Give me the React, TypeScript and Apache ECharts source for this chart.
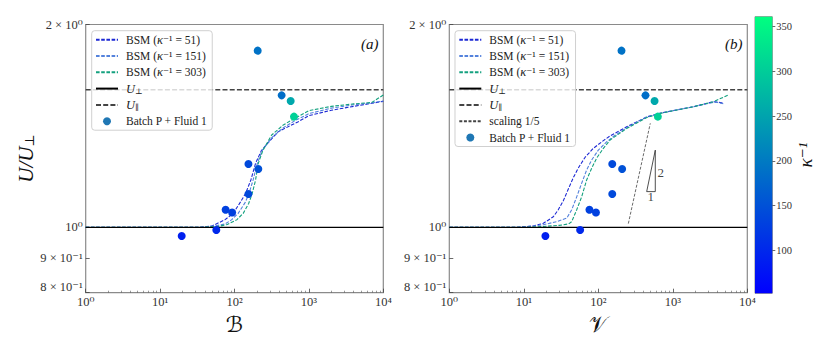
import React, { useEffect, useRef } from "react";
import * as echarts from "echarts";

// ---------- axes / ticks ----------
const X_MIN = 1;
const X_MAX = 10000;
const Y_MIN = 0.8;
const Y_MAX = 2;
const xTickLabels = ["10⁰", "10¹", "10²", "10³", "10⁴"];
const yTickValues = [0.8, 0.9, 1, 2];
const yTickLabels = ["8 × 10⁻¹", "9 × 10⁻¹", "10⁰", "2 × 10⁰"];
const cbarTicks = [100, 150, 200, 250, 300, 350];
const KAPPA_MIN = 52;
const KAPPA_MAX = 361;

// ---------- reference levels ----------
const U_PERP = 1.0;
const U_PAR = 1.6;

// ---------- experimental points (same in both panels) ----------
const batchX = [19.5, 57, 76, 93, 154, 154, 209, 205, 430, 569, 630];
const batchY = [0.971, 0.991, 1.062, 1.052, 1.121, 1.242, 1.221, 1.829, 1.57, 1.54, 1.46];
const batchKappa = [90, 100, 130, 130, 140, 140, 150, 190, 185, 255, 305];

// ---------- BSM vs B (panel a) ----------
const bsmB51X = [1, 10, 34, 50, 74, 96, 120, 141, 166, 192, 230, 300, 388, 721, 1000, 2000, 4000, 7000, 10000];
const bsmB51Y = [1, 1, 1, 1.005, 1.026, 1.049, 1.09, 1.123, 1.176, 1.245, 1.3, 1.345, 1.387, 1.435, 1.465, 1.492, 1.512, 1.528, 1.538];
const bsmB151X = [1, 10, 34, 55, 75, 91, 112, 140, 157, 178, 203, 235, 320, 450, 650, 1000, 2000, 4000, 7000, 10000];
const bsmB151Y = [1, 1, 1, 1.005, 1.012, 1.026, 1.049, 1.09, 1.123, 1.176, 1.245, 1.3, 1.36, 1.405, 1.44, 1.475, 1.503, 1.52, 1.531, 1.54];
const bsmB303X = [1, 10, 34, 60, 80, 107, 131, 155, 173, 192, 209, 240, 316, 453, 650, 1000, 2000, 4000, 7000, 10000];
const bsmB303Y = [1, 1, 1, 1.003, 1.01, 1.026, 1.049, 1.085, 1.123, 1.176, 1.245, 1.3, 1.371, 1.419, 1.452, 1.49, 1.512, 1.525, 1.532, 1.572];

// ---------- BSM vs V (panel b) ----------
const bsmV51X = [1, 8, 13.4, 18.3, 24.9, 29, 33.9, 39.6, 46.2, 53.9, 66.3, 85.7, 117, 144, 240, 446, 673, 1884, 3500, 4000, 4760];
const bsmV51Y = [1, 1, 1.005, 1.014, 1.037, 1.062, 1.095, 1.14, 1.185, 1.225, 1.27, 1.31, 1.345, 1.367, 1.41, 1.458, 1.477, 1.51, 1.536, 1.535, 1.528];
const bsmV151X = [1, 8, 13, 18.3, 27.7, 37.7, 44, 51.3, 59.8, 69.8, 81.5, 100, 130, 159, 240, 446, 673, 1884, 3500, 4000, 4760];
const bsmV151Y = [1, 1, 1.004, 1.009, 1.02, 1.032, 1.062, 1.11, 1.163, 1.217, 1.259, 1.302, 1.34, 1.364, 1.405, 1.458, 1.477, 1.51, 1.533, 1.532, 1.526];
const bsmV303X = [1, 10, 18, 30, 40, 44, 51.3, 59.8, 69.8, 81.5, 95, 117, 144, 240, 446, 673, 1884, 3500, 5555];
const bsmV303Y = [1, 1, 1.003, 1.007, 1.012, 1.02, 1.062, 1.11, 1.176, 1.224, 1.267, 1.31, 1.348, 1.402, 1.455, 1.476, 1.51, 1.536, 1.572];

// ---------- scaling guide (panel b) ----------
const scalingX = [253, 499];
const scalingY = [1.013, 1.427];
const triX = [446, 582, 582, 446];
const triY = [1.13, 1.13, 1.302, 1.13];
const triLabelX = [688, 505];
const triLabelY = [1.205, 1.11];
const triLabelText = ["2", "1"];

// ---------- names ----------
const N51 = "BSM (κ⁻¹ = 51)";
const N151 = "BSM (κ⁻¹ = 151)";
const N303 = "BSM (κ⁻¹ = 303)";
const NPERP = "U⊥";
const NPAR = "U∥";
const NSCALE = "scaling 1/5";
const NBATCH = "Batch P + Fluid 1";

const C51 = "#1c28d4";
const C151 = "#5482dc";
const C303 = "#14a17f";

const serif = "'Liberation Serif', 'DejaVu Serif', serif";
const pts = (xs: number[], ys: number[]) => xs.map((x, i) => [x, ys[i]]);

function xAxisFor(gi: number, name: string) {
  return {
    type: "log",
    logBase: 10,
    gridIndex: gi,
    min: X_MIN,
    max: X_MAX,
    axisLine: { show: false },
    axisTick: { show: true, inside: true, length: 4, lineStyle: { color: "#444", width: 0.8 } },
    minorTick: { show: true, splitNumber: 9, length: 2, lineStyle: { color: "#555", width: 0.6 } },
    splitLine: { show: false },
    minorSplitLine: { show: false },
    axisLabel: {
      fontFamily: serif,
      fontSize: 12.5,
      lineHeight: 12,
      color: "#333",
      margin: 3,
      formatter: (v: number) => xTickLabels[Math.round(Math.log10(v))] ?? "",
    },
    name,
    nameLocation: "middle",
    nameGap: 9,
    nameTextStyle: { fontFamily: "'DejaVu Serif', 'DejaVu Sans', serif", fontSize: 22, color: "#111" },
  };
}

function yAxisFor(gi: number, withName: boolean) {
  return {
    type: "log",
    logBase: 10,
    gridIndex: gi,
    min: Y_MIN,
    max: Y_MAX,
    axisLine: { show: false },
    axisTick: { show: true, inside: true, length: 4, customValues: yTickValues, lineStyle: { color: "#444", width: 0.8 } },
    splitLine: { show: false },
    axisLabel: {
      fontFamily: serif,
      fontSize: 12.5,
      lineHeight: 11,
      color: "#333",
      margin: 3,
      verticalAlignMinLabel: "bottom",
      customValues: yTickValues,
      formatter: (v: number) => {
        const i = yTickValues.findIndex((t) => Math.abs(t - v) < 1e-6);
        return i >= 0 ? yTickLabels[i] : "";
      },
    },
    name: withName ? "{i|U/U}{s|⊥}" : "",
    nameLocation: "middle",
    nameGap: 48,
    nameRotate: 90,
    nameTextStyle: {
      rich: {
        i: { fontFamily: serif, fontStyle: "italic", fontSize: 21, color: "#111" },
        s: { fontFamily: serif, fontSize: 13, color: "#111", verticalAlign: "bottom" },
      },
    },
  };
}

function panelSeries(gi: number, v: boolean) {
  const base = { xAxisIndex: gi, yAxisIndex: gi, symbol: "none", showSymbol: false, silent: true, z: 2 };
  const list: any[] = [
    { ...base, type: "line", name: N51, data: v ? pts(bsmV51X, bsmV51Y) : pts(bsmB51X, bsmB51Y), lineStyle: { color: C51, width: 1.1, type: [3.6, 1.6] }, itemStyle: { color: C51 } },
    { ...base, type: "line", name: N151, data: v ? pts(bsmV151X, bsmV151Y) : pts(bsmB151X, bsmB151Y), lineStyle: { color: C151, width: 1.1, type: [3.6, 1.6] }, itemStyle: { color: C151 } },
    { ...base, type: "line", name: N303, data: v ? pts(bsmV303X, bsmV303Y) : pts(bsmB303X, bsmB303Y), lineStyle: { color: C303, width: 1.1, type: [3.6, 1.6] }, itemStyle: { color: C303 } },
    { ...base, type: "line", name: NPERP, data: [[X_MIN, U_PERP], [X_MAX, U_PERP]], lineStyle: { color: "#000", width: 1.4 }, itemStyle: { color: "#000" } },
    { ...base, type: "line", name: NPAR, data: [[X_MIN, U_PAR], [X_MAX, U_PAR]], lineStyle: { color: "#444", width: 1.4, type: [5, 2.2] }, itemStyle: { color: "#444" } },
  ];
  if (v) {
    list.push({ ...base, type: "line", name: NSCALE, data: pts(scalingX, scalingY), lineStyle: { color: "#444", width: 0.8, type: [3, 1.6] }, itemStyle: { color: "#444" } });
    list.push({ ...base, type: "line", name: "triangle", data: pts(triX, triY), lineStyle: { color: "#222", width: 0.8 }, itemStyle: { color: "#222" } });
    list.push({
      ...base,
      type: "scatter",
      name: "triangle labels",
      symbol: "circle",
      symbolSize: 0.1,
      itemStyle: { color: "rgba(0,0,0,0)" },
      data: triLabelX.map((x, i) => ({ value: [x, triLabelY[i]], name: triLabelText[i] })),
      label: { show: true, position: "inside", formatter: "{b}", fontFamily: serif, fontSize: 13, color: "#111" },
    });
  }
  list.push({
    type: "scatter",
    name: NBATCH,
    xAxisIndex: gi,
    yAxisIndex: gi,
    symbolSize: 8,
    z: 5,
    silent: true,
    itemStyle: { color: "#1f77b4", opacity: 1 },
    data: batchX.map((x, i) => [x, batchY[i], batchKappa[i]]),
  });
  return list;
}

function legendFor(left: number, names: string[]) {
  return {
    orient: "vertical",
    left,
    top: 30.7,
    padding: [2.5, 5, 2.5, 3.3],
    itemGap: 3.3,
    itemWidth: 22,
    itemHeight: 8,
    selectedMode: false,
    backgroundColor: "rgba(255,255,255,0.8)",
    borderColor: "#d0d0d0",
    borderWidth: 1,
    borderRadius: 3,
    data: names.map((n) =>
      n === NBATCH
        ? { name: n, icon: "circle", itemStyle: { color: "#1f77b4", opacity: 1 } }
        : { name: n, itemStyle: { opacity: 0 } }
    ),
    formatter: (name: string) => {
      if (name === NPERP) return "{i|U}{s|⊥}";
      if (name === NPAR) return "{i|U}{s|∥}";
      const m = name.match(/^BSM \(κ⁻¹ = (\d+)\)$/);
      if (m) return `{n|BSM (}{i|κ}{n|⁻¹ = ${m[1]})}`;
      return `{n|${name}}`;
    },
    textStyle: {
      fontFamily: serif,
      fontSize: 11.5,
      color: "#222",
      lineHeight: 13,
      padding: [0, 0, 0, 3],
      rich: {
        n: { fontFamily: serif, fontSize: 11.5, color: "#222", lineHeight: 13 },
        i: { fontFamily: serif, fontStyle: "italic", fontSize: 12.5, color: "#222", lineHeight: 13 },
        s: { fontFamily: serif, fontSize: 8, color: "#222", lineHeight: 13, verticalAlign: "bottom" },
      },
    },
  };
}

export default function App() {
  const ref = useRef<HTMLDivElement>(null);
  useEffect(() => {
    if (!ref.current) return;
    const chart = echarts.init(ref.current, undefined, { renderer: "svg" });
    const sA = panelSeries(0, false);
    const sB = panelSeries(1, true);
    const series: any[] = [...sA, ...sB];
    const scatterIdx = series.map((s, i) => (s.name === NBATCH ? i : -1)).filter((i) => i >= 0);
    series.push({
      type: "bar",
      name: "colorbar",
      xAxisIndex: 2,
      yAxisIndex: 2,
      data: [KAPPA_MAX],
      barWidth: "100%",
      silent: true,
      itemStyle: {
        color: new echarts.graphic.LinearGradient(0, 0, 0, 1, [
          { offset: 0, color: "#00ff80" },
          { offset: 1, color: "#0000ff" },
        ]),
      },
    });

    chart.setOption({
      animation: false,
      backgroundColor: "#fff",
      grid: [
        { left: 85.7, top: 24.5, width: 297.6, height: 268.2, show: true, borderColor: "#8a8a8a", borderWidth: 1.2, backgroundColor: "transparent" },
        { left: 449.3, top: 24.5, width: 298, height: 268.2, show: true, borderColor: "#8a8a8a", borderWidth: 1.2, backgroundColor: "transparent" },
        { left: 755, top: 16.7, width: 17.3, height: 276.6, show: true, borderColor: "#8a8a8a", borderWidth: 1, backgroundColor: "transparent" },
      ],
      xAxis: [
        xAxisFor(0, "ℬ"),
        xAxisFor(1, "𝒱"),
        { type: "category", gridIndex: 2, data: [""], show: false },
      ],
      yAxis: [
        yAxisFor(0, true),
        yAxisFor(1, false),
        {
          type: "value",
          gridIndex: 2,
          position: "right",
          min: KAPPA_MIN,
          max: KAPPA_MAX,
          axisLine: { show: false },
          splitLine: { show: false },
          axisTick: { show: true, length: 3, customValues: cbarTicks, lineStyle: { color: "#444", width: 0.8 } },
          axisLabel: { customValues: cbarTicks, fontFamily: serif, fontSize: 10.5, color: "#333", margin: 4 },
          name: "κ⁻¹",
          nameLocation: "middle",
          nameRotate: 90,
          nameGap: 20,
          nameTextStyle: { fontFamily: serif, fontStyle: "italic", fontSize: 19, color: "#111" },
        },
      ],
      visualMap: {
        type: "continuous",
        show: false,
        min: KAPPA_MIN,
        max: KAPPA_MAX,
        dimension: 2,
        seriesIndex: scatterIdx,
        inRange: { color: ["#0000ff", "#00ff80"] },
      },
      legend: [
        legendFor(91.7, [N51, N151, N303, NPERP, NPAR, NBATCH]),
        legendFor(455, [N51, N151, N303, NPERP, NPAR, NSCALE, NBATCH]),
      ],
      graphic: [
        { type: "text", left: 361, top: 36, style: { text: "(a)", font: `italic 15px ${serif}`, fill: "#111" } },
        { type: "text", left: 725, top: 36, style: { text: "(b)", font: `italic 15px ${serif}`, fill: "#111" } },
      ],
      series,
    });
    return () => chart.dispose();
  }, []);
  return <div ref={ref} style={{ position: "absolute", left: 0, top: 0, width: 830, height: 346 }} />;
}
